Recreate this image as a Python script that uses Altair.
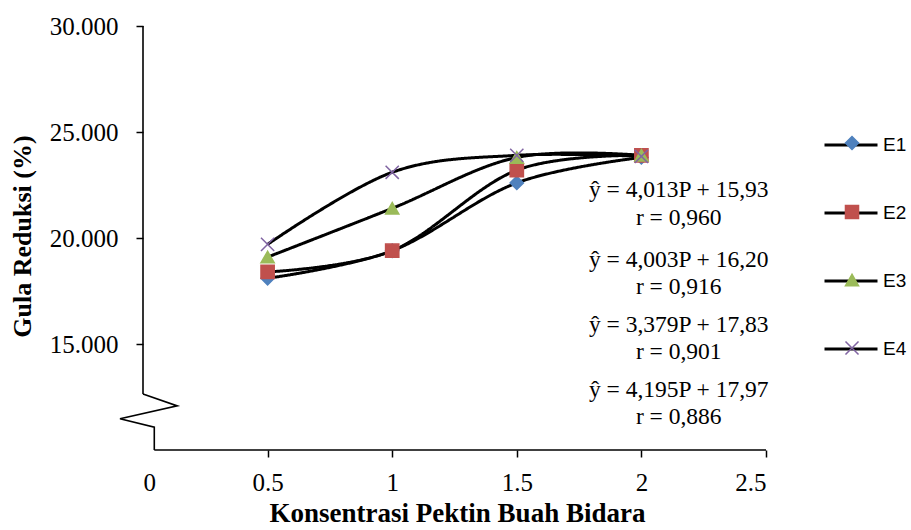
import altair as alt
import pandas as pd

# ---- data ----
conc = [0.5, 1.0, 1.5, 2.0]
e1 = [18.1, 19.4, 22.6, 23.8]
e2 = [18.4, 19.4, 23.2, 23.9]
e3 = [19.1, 21.4, 23.8, 23.9]
e4 = [19.7, 23.1, 23.9, 23.85]
series_names = ["E1", "E2", "E3", "E4"]
series_colors = ["#4F81BD", "#C0504D", "#9BBB59", "#8064A2"]
series_shapes = ["diamond", "square", "triangle-up", "M-1,-1L1,1M-1,1L1,-1"]

x_ticks = [0, 0.5, 1, 1.5, 2, 2.5]
y_ticks = [15, 20, 25, 30]

eq_text = [
    "ŷ = 4,013P + 15,93", "r = 0,960",
    "ŷ = 4,003P + 16,20", "r = 0,916",
    "ŷ = 3,379P + 17,83", "r = 0,901",
    "ŷ = 4,195P + 17,97", "r = 0,886",
]
eq_x = [2.15] * 8
eq_y = [22.26, 20.94, 18.96, 17.69, 15.90, 14.62, 12.83, 11.56]

# axis lines with the broken-axis zigzag (data units)
yaxis_x = [0, 0]
yaxis_y = [12.64, 30]
break_x = [0, 0.1376, -0.0923, 0.0453, 0.0453]
break_y = [12.64, 12.08, 11.47, 11.08, 10.0]
xaxis_x = [0.0453, 2.5]
xaxis_y = [10, 10]

SERIF = "Liberation Serif"
SANS = "Liberation Sans"

rows = []
for name, vals in zip(series_names, [e1, e2, e3, e4]):
    for c, v in zip(conc, vals):
        rows.append({"series": name, "seriesL": name, "conc": c, "value": v})
df = pd.DataFrame(rows)

deco_rows = []
for g, xs, ys in [("yaxis", yaxis_x, yaxis_y), ("brk", break_x, break_y), ("xaxis", xaxis_x, xaxis_y)]:
    for i, (xx, yy) in enumerate(zip(xs, ys)):
        deco_rows.append({"g": g, "i": i, "x": xx, "y": yy})
deco = pd.DataFrame(deco_rows)

eq_df = pd.DataFrame({"t": eq_text, "x": eq_x, "y": eq_y})

xscale = alt.Scale(domain=[0, 2.5], nice=False, zero=False)
yscale = alt.Scale(domain=[10, 30], nice=False, zero=False)

x_axis = alt.Axis(
    values=x_ticks, format="~g", grid=False, domain=False,
    tickSize=7, tickWidth=1.5,
    tickColor={"condition": {"test": "datum.value === 0", "value": "transparent"}, "value": "black"},
    labelFont=SERIF, labelFontSize=25, labelColor="black", labelPadding=13,
    title="Konsentrasi Pektin Buah Bidara", titleFont=SERIF, titleFontSize=27,
    titleFontWeight="bold", titleColor="black",
    titleX=314, titleY=63, titleBaseline="middle", titleAlign="center",
)
y_axis = alt.Axis(
    values=y_ticks, format=".3f", grid=False, domain=False,
    tickSize=7, tickWidth=1.5, tickColor="black",
    labelFont=SERIF, labelFontSize=25, labelColor="black", labelPadding=18,
    title="Gula Reduksi (%)", titleFont=SERIF, titleFontSize=26,
    titleFontWeight="bold", titleColor="black",
    titleX=-121, titleY=210, titleBaseline="middle", titleAlign="center", titleAngle=-90,
)

deco_layer = alt.Chart(deco).mark_line(color="black", strokeWidth=1.6).encode(
    x=alt.X("x:Q", scale=xscale, axis=x_axis),
    y=alt.Y("y:Q", scale=yscale, axis=y_axis),
    detail="g:N",
    order="i:Q",
)

line_legend = alt.Legend(
    orient="none", legendX=680, legendY=91, title=None, padding=0,
    symbolType="stroke", symbolSize=2809, symbolStrokeWidth=3,
    symbolStrokeColor="black", symbolDash=[1, 0],
    labelFont=SANS, labelFontSize=19, labelColor="black", labelOffset=4,
    rowPadding=30,
)
lines = alt.Chart(df).mark_line(
    color="black", strokeWidth=3, interpolate="cardinal"
).encode(
    x=alt.X("conc:Q", scale=xscale),
    y=alt.Y("value:Q", scale=yscale),
    strokeDash=alt.StrokeDash(
        "seriesL:N",
        scale=alt.Scale(range=[[1, 0]] * 4),
        legend=line_legend,
    ),
)

marker_legend = alt.Legend(
    orient="none", legendX=700, legendY=108, title=None, padding=0,
    symbolSize=170, symbolStrokeWidth=1.5, symbolOpacity=1,
    labelFont=SANS, labelFontSize=18, labelColor="black", labelOffset=4,
    labelExpr="''", rowPadding=49,
)
points = alt.Chart(df).mark_point(
    filled=True, size=175, strokeWidth=1.5, opacity=1
).encode(
    x=alt.X("conc:Q", scale=xscale),
    y=alt.Y("value:Q", scale=yscale),
    fill=alt.Fill("series:N", scale=alt.Scale(domain=series_names, range=series_colors), legend=marker_legend),
    stroke=alt.Stroke("series:N", scale=alt.Scale(domain=series_names, range=series_colors), legend=marker_legend),
    shape=alt.Shape("series:N", scale=alt.Scale(domain=series_names, range=series_shapes), legend=marker_legend),
)

eqs = alt.Chart(eq_df).mark_text(
    font=SERIF, fontSize=23.5, color="black", align="center", baseline="middle"
).encode(
    x=alt.X("x:Q", scale=xscale),
    y=alt.Y("y:Q", scale=yscale),
    text="t:N",
)

chart = alt.layer(deco_layer, lines, points, eqs).properties(
    width=623, height=424,
    padding={"left": 143, "top": 26, "right": 145, "bottom": 80},
    autosize=alt.AutoSizeParams(type="none"),
    background="white",
).configure_view(stroke="transparent")

chart.save("out.html", embed_options={"renderer": "svg", "actions": False})
